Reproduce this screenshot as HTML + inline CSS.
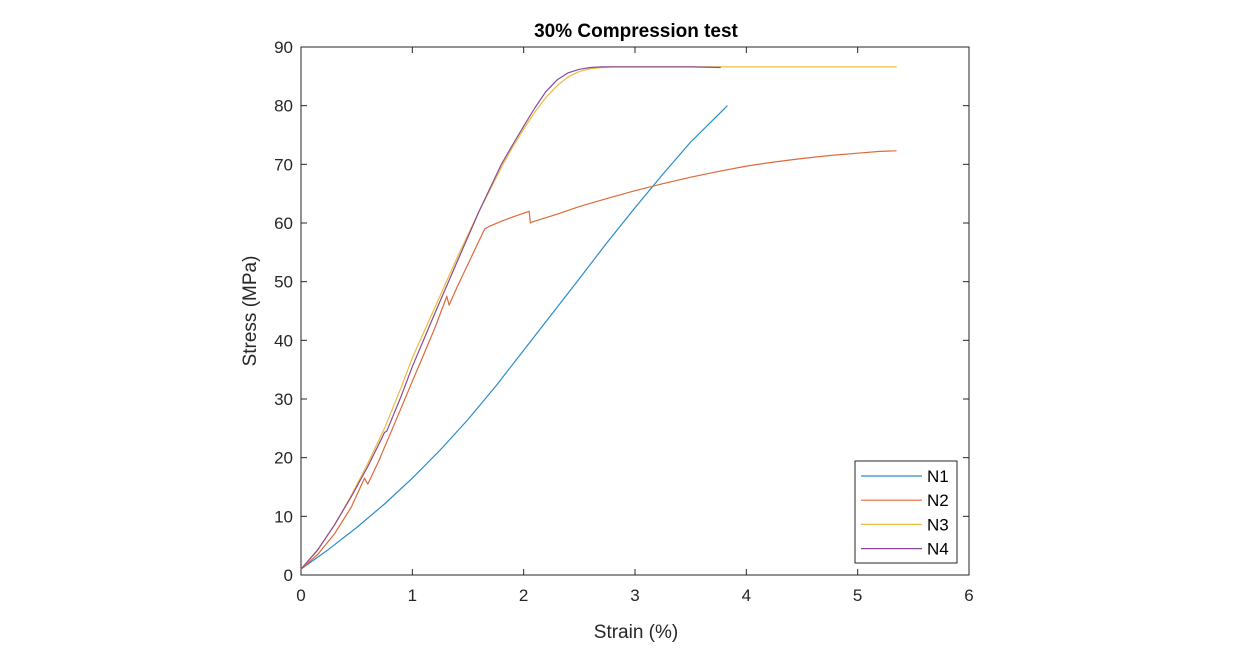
<!DOCTYPE html>
<html><head><meta charset="utf-8"><style>
body{margin:0;background:#fff;}
svg{display:block;font-family:"Liberation Sans",Arial,sans-serif;}
</style></head><body>
<svg id="chart" width="1242" height="663" viewBox="0 0 1242 663" xmlns="http://www.w3.org/2000/svg">
<rect width="1242" height="663" fill="#fff"/>
<text x="636" y="37" text-anchor="middle" font-size="19" font-weight="bold" fill="#000">30% Compression test</text>
<g id="axes"></g>
<g id="series"></g>
<text x="636" y="638" text-anchor="middle" font-size="19" fill="#262626">Strain (%)</text>
<text transform="translate(256,311) rotate(-90)" text-anchor="middle" font-size="19" fill="#262626">Stress (MPa)</text>
<g id="legend"></g>
</svg>
<script>
const xTicks=[0,1,2,3,4,5,6];
const yTicks=[0,10,20,30,40,50,60,70,80,90];
const seriesNames=["N1","N2","N3","N4"];
const seriesColors=["#2b8ccc","#dd6a3a","#ecbc3c","#8a4a98"];
const n1x=[0,0.25,0.5,0.75,1,1.25,1.5,1.75,2,2.25,2.5,2.75,3,3.25,3.5,3.83];
const n1y=[1,4.4,8.1,12.1,16.5,21.3,26.5,32.2,38.3,44.4,50.5,56.7,62.6,68.3,73.8,80];
const n2x=[0,0.15,0.3,0.45,0.57,0.6,0.7,0.8,0.9,1,1.1,1.2,1.28,1.31,1.33,1.4,1.5,1.6,1.65,1.7,1.8,1.9,2.05,2.06,2.08,2.3,2.5,2.75,3,3.25,3.5,3.75,4,4.25,4.5,4.75,5,5.2,5.35];
const n2y=[1,3.5,7,11.5,16.5,15.5,19.5,24,28.5,33,37.5,42,46,47.5,46,49,53,57,59,59.5,60.3,61,62,60,60.2,61.5,62.8,64.2,65.5,66.7,67.8,68.8,69.7,70.4,71,71.5,71.9,72.2,72.3];
const n3x=[0,0.15,0.3,0.45,0.6,0.75,0.9,1,1.2,1.4,1.6,1.8,1.9,2,2.1,2.2,2.3,2.4,2.5,2.6,2.7,2.8,3,3.5,4,4.5,5,5.35];
const n3y=[1,4.2,8.5,13.5,19,25,32,37,45.5,54,62,69.5,72.9,76,78.9,81.4,83.4,84.9,85.8,86.3,86.5,86.6,86.6,86.6,86.6,86.6,86.6,86.6];
const n4x=[0,0.15,0.3,0.45,0.6,0.73,0.75,0.77,0.9,1,1.2,1.4,1.6,1.8,1.9,2,2.1,2.2,2.3,2.4,2.5,2.6,2.7,2.8,3,3.5,3.77];
const n4y=[1,4.3,8.5,13.3,18.5,23.5,24.3,24.5,30.5,35.5,44.5,53.3,62,70,73.3,76.5,79.6,82.4,84.4,85.6,86.2,86.5,86.6,86.6,86.6,86.6,86.5];
const allX=[n1x,n2x,n3x,n4x], allY=[n1y,n2y,n3y,n4y];
const X0=301,X1=969,Y0=575,Y1=47;
const sx=v=>X0+(v-0)/(6-0)*(X1-X0);
const sy=v=>Y0-(v-0)/(90-0)*(Y0-Y1);
const NS="http://www.w3.org/2000/svg";
function mk(t,a,p){const e=document.createElementNS(NS,t);for(const k in a)e.setAttribute(k,a[k]);p.appendChild(e);return e;}
const axes=document.getElementById('axes');
const box=mk('rect',{x:X0,y:Y1,width:X1-X0,height:Y0-Y1,fill:'none',stroke:'#262626','stroke-width':1},axes);


xTicks.forEach(t=>{
  const x=sx(t);
  mk('line',{x1:x,x2:x,y1:Y0,y2:Y0-6,stroke:'#262626'},axes);
  mk('line',{x1:x,x2:x,y1:Y1,y2:Y1+6,stroke:'#262626'},axes);
  const tx=mk('text',{x:x,y:Y0+26,'text-anchor':'middle','font-size':'17',fill:'#262626'},axes);
  tx.textContent=t;
  
  
});
yTicks.forEach(t=>{
  const y=sy(t);
  mk('line',{x1:X0,x2:X0+6,y1:y,y2:y,stroke:'#262626'},axes);
  mk('line',{x1:X1,x2:X1-6,y1:y,y2:y,stroke:'#262626'},axes);
  const tx=mk('text',{x:X0-8,y:y+6,'text-anchor':'end','font-size':'17',fill:'#262626'},axes);
  tx.textContent=t;
  
  
});
const sg=document.getElementById('series');
allX.forEach((xs,i)=>{
  const d=xs.map((v,j)=>(j?'L':'M')+sx(v).toFixed(1)+','+sy(allY[i][j]).toFixed(1)).join(' ');
  const p=mk('path',{d:d,fill:'none',stroke:seriesColors[i],'stroke-width':1.2,'stroke-linejoin':'round'},sg);
  
  
});
const lg=document.getElementById('legend');
mk('rect',{x:855,y:461,width:102,height:102,fill:'#fff',stroke:'#262626'},lg);
seriesNames.forEach((n,i)=>{
  const y=476+i*24.2;
  const l=mk('line',{x1:861,x2:922,y1:y,y2:y,stroke:seriesColors[i],'stroke-width':1.2},lg);
  
  
  const t=mk('text',{x:927,y:y+6,'font-size':'17',fill:'#000'},lg);
  t.textContent=n;
  
  
});
</script>
</body></html>
